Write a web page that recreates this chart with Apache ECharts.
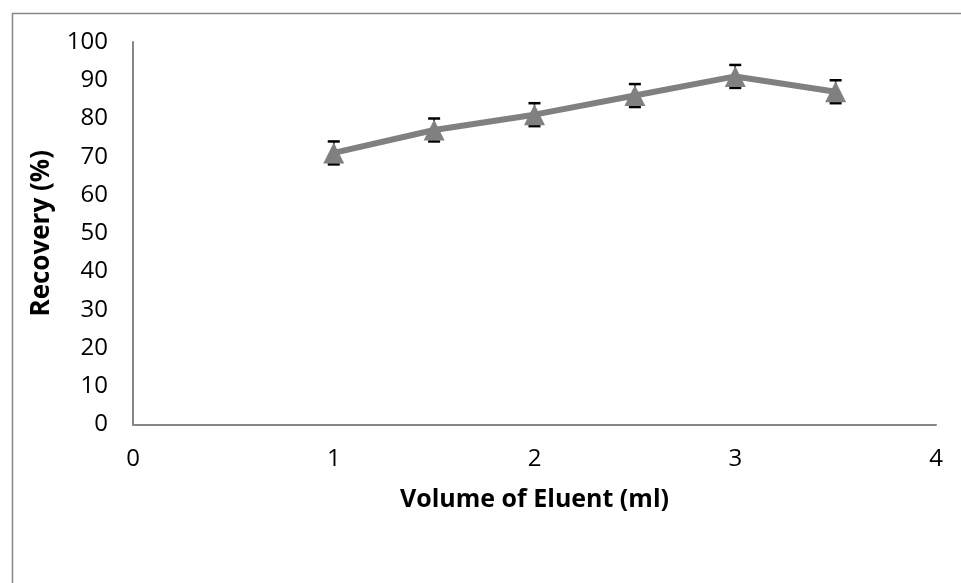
<!DOCTYPE html>
<html>
<head>
<meta charset="utf-8">
<script src="https://cdn.jsdelivr.net/npm/echarts@6/dist/echarts.min.js"></script>
<style>
  html, body { margin: 0; padding: 0; background: #fff; }
  #chart { width: 961px; height: 583px; }
</style>
</head>
<body>
<div id="chart"></div>
<script>
// Eluent volume (ml) and recovery (%) with standard deviation
const volumes = [1, 1.5, 2, 2.5, 3, 3.5];
const recovery = [71, 77, 81, 86, 91, 87];
const errors = [3, 3, 3, 3, 3, 3];

const xTicks = [0, 1, 2, 3, 4];
const yTicks = [0, 10, 20, 30, 40, 50, 60, 70, 80, 90, 100];

const FONT = 'Open Sans';
const axisGray = '#868686';
const seriesGray = '#808080';

const chart = echarts.init(document.getElementById('chart'), null, { renderer: 'canvas' });

const lineData = volumes.map((v, i) => [v, recovery[i]]);
const errData = volumes.map((v, i) => [v, recovery[i] - errors[i], recovery[i] + errors[i]]);

chart.setOption({
  animation: false,
  backgroundColor: '#fff',
  graphic: [{
    type: 'rect',
    shape: { x: 12.5, y: 13.5, width: 1000, height: 700 },
    style: { fill: 'none', stroke: axisGray, lineWidth: 1.5 },
    silent: true,
    z: -1
  }],
  grid: { left: 133, right: 25, top: 42, bottom: 158.5, containLabel: false },
  xAxis: {
    type: 'value',
    min: xTicks[0],
    max: xTicks[xTicks.length - 1],
    interval: 1,
    name: 'Volume of Eluent (ml)',
    nameLocation: 'middle',
    nameGap: 63,
    nameTextStyle: { fontFamily: FONT, fontWeight: 'bold', fontSize: 25, color: '#000' },
    axisLine: { show: true, onZero: false, lineStyle: { color: axisGray, width: 2 } },
    axisTick: { show: false },
    splitLine: { show: false },
    axisLabel: { fontFamily: FONT, fontSize: 24, color: '#000', margin: 23 }
  },
  yAxis: {
    type: 'value',
    min: yTicks[0],
    max: yTicks[yTicks.length - 1],
    interval: 10,
    name: 'Recovery (%)',
    nameLocation: 'middle',
    nameGap: 78,
    nameTextStyle: { fontFamily: FONT, fontWeight: 'bold', fontSize: 26, color: '#000' },
    axisLine: { show: true, lineStyle: { color: axisGray, width: 2 } },
    axisTick: { show: false },
    splitLine: { show: false },
    axisLabel: { fontFamily: FONT, fontSize: 24, color: '#000', margin: 25 }
  },
  series: [
    {
      // error bars sit beneath the markers
      type: 'custom',
      data: errData,
      z: 1,
      renderItem: function (params, api) {
        const x = api.value(0);
        const lo = api.coord([x, api.value(1)]);
        const hi = api.coord([x, api.value(2)]);
        const half = 6;
        const st = { stroke: '#000', lineWidth: 2.5 };
        return {
          type: 'group',
          children: [
            { type: 'line', shape: { x1: lo[0], y1: lo[1], x2: hi[0], y2: hi[1] }, style: { stroke: '#000', lineWidth: 1.5 } },
            { type: 'line', shape: { x1: lo[0] - half, y1: lo[1], x2: lo[0] + half, y2: lo[1] }, style: st },
            { type: 'line', shape: { x1: hi[0] - half, y1: hi[1], x2: hi[0] + half, y2: hi[1] }, style: st }
          ]
        };
      }
    },
    {
      type: 'line',
      data: lineData,
      symbol: 'triangle',
      symbolSize: [21, 21],
      lineStyle: { color: seriesGray, width: 6 },
      itemStyle: { color: seriesGray },
      z: 2
    }
  ]
});
</script>
</body>
</html>
